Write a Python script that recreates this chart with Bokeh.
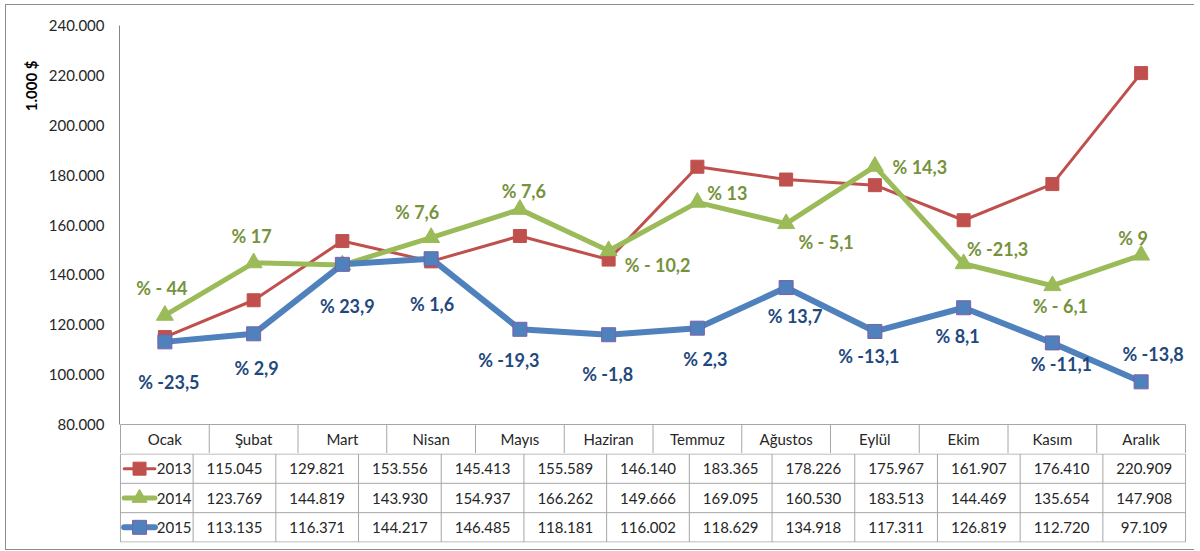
from bokeh.plotting import figure
from bokeh.models import (ColumnDataSource, Range1d, FixedTicker,
                          CustomJSTickFormatter, Title)
from bokeh.layouts import column
from bokeh.core.properties import value
from bokeh.embed import file_html
from bokeh.resources import INLINE

# ---------------- data ----------------
months = ["Ocak", "Şubat", "Mart", "Nisan", "Mayıs", "Haziran",
          "Temmuz", "Ağustos", "Eylül", "Ekim", "Kasım", "Aralık"]
years = ["2013", "2014", "2015"]
v2013 = [115045, 129821, 153556, 145413, 155589, 146140,
         183365, 178226, 175967, 161907, 176410, 220909]
v2014 = [123769, 144819, 143930, 154937, 166262, 149666,
         169095, 160530, 183513, 144469, 135654, 147908]
v2015 = [113135, 116371, 144217, 146485, 118181, 116002,
         118629, 134918, 117311, 126819, 112720, 97109]
pct2014 = ["% - 44", "% 17", "", "% 7,6", "% 7,6", "% - 10,2",
           "% 13", "% - 5,1", "% 14,3", "% -21,3", "% - 6,1", "% 9"]
pct2015 = ["% -23,5", "% 2,9", "% 23,9", "% 1,6", "% -19,3", "% -1,8",
           "% 2,3", "% 13,7", "% -13,1", "% 8,1", "% -11,1", "% -13,8"]
y_ticks = [80000, 100000, 120000, 140000, 160000, 180000, 200000, 220000, 240000]
y_title = "1.000 $"

# ---------------- label offsets (pixels, screen, +y = down) ----------------
off2014_x = [-3, -2, 0, -14, 4, 49, 30, 40, 45, 34, 8, -8]
off2014_y = [-27, -27, 0, -26, -18, 14, -9, 18, 1, -15, 20, -17]
off2015_x = [4, 3, 5, 1, -11, -1, 8, 9, -6, -6, 9, 12]
off2015_y = [40, 34, 42, 45, 31, 39, 31, 28, 25, 28, 21, -28]

# ---------------- styles ----------------
FONT = "Lato"
RED, GREEN, BLUE = "#C0504D", "#9BBB59", "#4F81BD"
GREEN_TXT, BLUE_TXT = "#76923C", "#1F497D"
GRID = "#A6A6A6"
TXT = "#262626"

W = 1188
PX = 88.75                     # pixels per month column
Y_MIN, Y_MAX = y_ticks[0], y_ticks[-1]
PLOT_PX = 399.0                # pixels from Y_MIN to Y_MAX
UPP = (Y_MAX - Y_MIN) / PLOT_PX  # data units per pixel
HEADER_PX = 29.0
ROW_PX = 88.0 / 3

n = len(months)
xs = list(range(n))


def fmt(v):
    return f"{v:,}".replace(",", ".")


# ================= chart figure =================
y_start = Y_MIN - HEADER_PX * UPP
p1 = figure(width=W, height=448, output_backend="svg", toolbar_location=None,
            title=None,
            x_range=Range1d(-0.5 - 1 / PX, n - 0.5 + 1 / PX),
            y_range=Range1d(y_start, Y_MAX),
            min_border_left=113, min_border_right=8,
            min_border_top=20, min_border_bottom=0,
            x_axis_type=None)
p1.outline_line_color = None
p1.xgrid.visible = False
p1.ygrid.visible = False
p1.background_fill_color = "white"
p1.border_fill_color = "white"

ax = p1.yaxis[0]
ax.ticker = FixedTicker(ticks=y_ticks)
ax.bounds = (Y_MIN, Y_MAX)
ax.formatter = CustomJSTickFormatter(
    code="return Math.round(tick).toString().replace(/\\B(?=(\\d{3})+(?!\\d))/g, '.');")
ax.axis_line_color = "#868686"
ax.major_tick_line_color = None
ax.minor_tick_line_color = None
ax.major_tick_out = 0
ax.major_tick_in = 0
ax.minor_tick_out = 0
ax.major_label_text_font = FONT
ax.major_label_text_font_size = "15px"
ax.major_label_text_color = TXT
ax.major_label_standoff = 15

# y title (as a side title so that it sits at the top of the axis)
p1.add_layout(Title(text=y_title, align="right", offset=35, standoff=12,
                    text_font=FONT, text_font_style="bold",
                    text_font_size="15px", text_color="#000000"), "left")

# header row of the data table
hy = (Y_MIN + y_start) / 2
p1.segment(x0=[-0.5], y0=[Y_MIN], x1=[n - 0.5], y1=[Y_MIN],
           line_color=GRID, line_width=1)
vx = [i - 0.5 for i in range(n + 1)]
p1.segment(x0=vx, y0=[y_start] * len(vx), x1=vx, y1=[Y_MIN] * len(vx),
           line_color=GRID, line_width=1)
p1.text(x=xs, y=[hy] * n, text=months, text_align="center",
        text_baseline="middle", text_font=value(FONT),
        text_font_size="15px", text_color=TXT)

# series
p1.line(xs, v2013, line_color=RED, line_width=3, line_join="round")
p1.scatter(xs, v2013, marker="square", size=13, fill_color=RED,
           line_color=RED)
p1.line(xs, v2014, line_color=GREEN, line_width=5, line_join="round")
p1.scatter(xs, v2014, marker="triangle", size=17, fill_color=GREEN,
           line_color=GREEN)
p1.line(xs, v2015, line_color=BLUE, line_width=6, line_join="round")
p1.scatter(xs, v2015, marker="square", size=14, fill_color=BLUE,
           line_color="#7F5FA8", line_width=1)

src14 = ColumnDataSource(dict(x=xs, y=v2014, t=pct2014,
                              dx=off2014_x, dy=off2014_y))
src15 = ColumnDataSource(dict(x=xs, y=v2015, t=pct2015,
                              dx=off2015_x, dy=off2015_y))
p1.text(x="x", y="y", text="t", x_offset="dx", y_offset="dy", source=src14,
        text_align="center", text_baseline="middle", text_font=value(FONT),
        text_font_style="bold", text_font_size="18px", text_color=GREEN_TXT)
p1.text(x="x", y="y", text="t", x_offset="dx", y_offset="dy", source=src15,
        text_align="center", text_baseline="middle", text_font=value(FONT),
        text_font_style="bold", text_font_size="18px", text_color=BLUE_TXT)

# ================= table figure =================
LEG_PX = 78.0
x0 = -0.5 - LEG_PX / PX
p2 = figure(width=W, height=96, output_backend="svg", toolbar_location=None,
            title=None,
            x_range=Range1d(x0 - 1 / PX, n - 0.5 + 1 / PX),
            y_range=Range1d(-0.5 / ROW_PX, 3 + 0.5 / ROW_PX),
            min_border_left=35, min_border_right=8,
            min_border_top=0, min_border_bottom=7,
            x_axis_type=None, y_axis_type=None)
p2.outline_line_color = None
p2.xgrid.visible = False
p2.ygrid.visible = False
p2.border_fill_color = "white"

hl = [0, 1, 2, 3]
p2.segment(x0=[x0] * 4, y0=hl, x1=[n - 0.5] * 4, y1=hl,
           line_color=GRID, line_width=1)
vx2 = [x0] + vx
p2.segment(x0=vx2, y0=[0] * len(vx2), x1=vx2, y1=[3] * len(vx2),
           line_color=GRID, line_width=1)

series = [(v2013, RED, 3, "square", 13, RED, 1),
          (v2014, GREEN, 5, "triangle", 15, GREEN, 1),
          (v2015, BLUE, 6, "square", 14, "#7F5FA8", 1)]
for k, (vals, col, lw, mk, ms, mlc, mlw) in enumerate(series):
    yc = 2.5 - k
    p2.line([x0 + 4 / PX, x0 + 37 / PX], [yc, yc], line_color=col,
            line_width=lw, line_cap="round")
    p2.scatter([x0 + 20.5 / PX], [yc], marker=mk, size=ms, fill_color=col,
               line_color=mlc, line_width=mlw)
    p2.text(x=[x0 + 39 / PX], y=[yc], text=[years[k]], text_align="left",
            text_baseline="middle", text_font=value(FONT),
            text_font_size="15px", text_color=TXT)
    p2.text(x=xs, y=[yc] * n, text=[fmt(v) for v in vals],
            text_align="center", text_baseline="middle",
            text_font=value(FONT), text_font_size="15px", text_color=TXT)

layout = column(p1, p2, spacing=0,
                styles={"border-style": "solid", "border-color": "#8C8C8C",
                        "border-width": "1px 0px 1px 1px",
                        "margin": "4px 0px 0px 5px"})

open("out.html", "w").write(file_html(layout, INLINE))
